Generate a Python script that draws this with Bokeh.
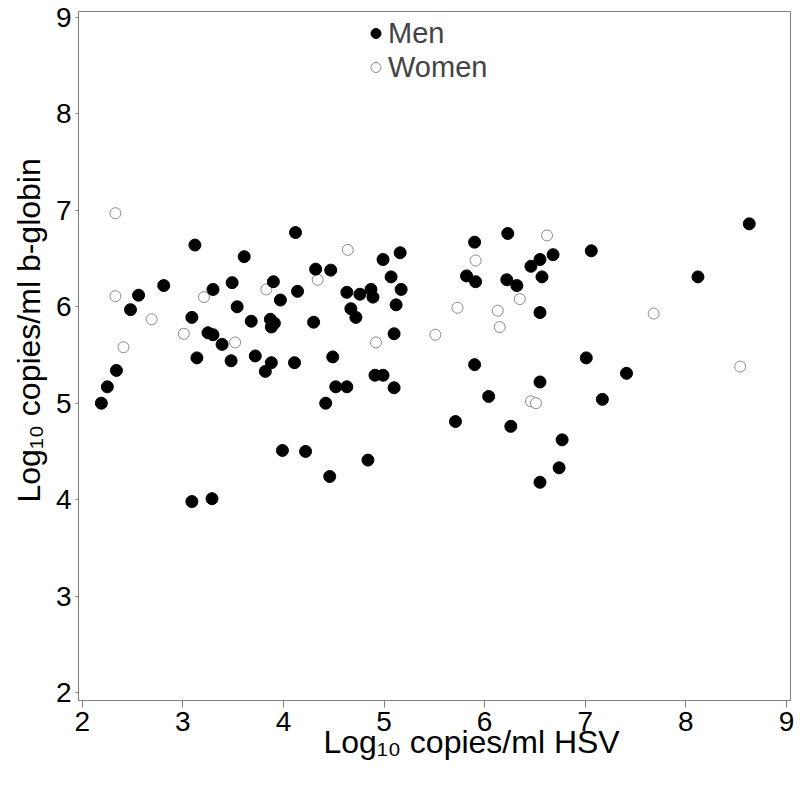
from bokeh.plotting import figure
from bokeh.models import Range1d, FixedTicker, Legend, LegendItem, Title
from bokeh.embed import file_html
from bokeh.resources import INLINE

# ---- data ----
men_x = [3.12, 3.61, 2.81, 2.56, 2.48, 3.30, 3.49, 3.54, 3.68, 3.09, 3.25, 3.30, 3.39, 3.14, 3.48, 3.72,
         2.34, 2.25, 2.19, 3.09, 3.29,
         4.12, 4.99, 5.16, 4.32, 4.47, 3.90, 3.97, 4.14, 5.07, 5.17, 4.63, 4.76, 4.87, 4.89, 5.12, 4.67,
         4.72, 3.87, 3.91, 3.88, 4.30, 5.10, 3.88, 3.82, 4.11, 4.49, 4.91, 4.99, 4.52, 4.63, 5.10, 4.42,
         3.99, 4.22, 4.84, 4.46,
         6.23, 5.90, 6.68, 7.06, 6.55, 6.46, 5.82, 5.91, 6.22, 6.32, 6.57, 6.55, 5.90, 7.01, 6.55, 6.04,
         5.71, 6.26, 6.77, 6.74, 6.55,
         8.63, 8.12, 7.41, 7.17]
men_y = [6.64, 6.52, 6.22, 6.12, 5.97, 6.18, 6.25, 6.00, 5.85, 5.89, 5.73, 5.71, 5.61, 5.47, 5.44, 5.49,
         5.34, 5.17, 5.00, 3.98, 4.01,
         6.77, 6.49, 6.56, 6.39, 6.38, 6.26, 6.07, 6.16, 6.31, 6.18, 6.15, 6.13, 6.18, 6.10, 6.02, 5.98,
         5.89, 5.87, 5.83, 5.79, 5.84, 5.72, 5.42, 5.33, 5.42, 5.48, 5.29, 5.29, 5.17, 5.17, 5.16, 5.00,
         4.51, 4.50, 4.41, 4.24,
         6.76, 6.67, 6.54, 6.58, 6.49, 6.42, 6.32, 6.26, 6.28, 6.22, 6.31, 5.94, 5.40, 5.47, 5.22, 5.07,
         4.81, 4.76, 4.62, 4.33, 4.18,
         6.86, 6.31, 5.31, 5.04]

women_x = [2.33, 2.33, 2.69, 2.41, 3.01, 3.21, 3.52, 4.64, 4.34, 3.83, 4.92,
           6.62, 5.91, 6.35, 5.73, 6.13, 6.15, 5.51, 6.46, 6.51, 7.68, 8.54]
women_y = [6.97, 6.11, 5.87, 5.58, 5.72, 6.10, 5.63, 6.59, 6.28, 6.18, 5.63,
           6.74, 6.48, 6.08, 5.99, 5.96, 5.79, 5.71, 5.02, 5.00, 5.93, 5.38]

x_ticks = [2, 3, 4, 5, 6, 7, 8, 9]
y_ticks = [2, 3, 4, 5, 6, 7, 8, 9]
x_title = "Log\u2081\u2080 copies/ml HSV"
y_title = "Log\u2081\u2080 copies/ml b-globin"
series_names = ["Men", "Women"]

FONT = "Liberation Sans"
GRAY = "#7f7f7f"

p = figure(width=800, height=790, output_backend="svg", toolbar_location=None,
           x_range=Range1d(1.963, 9.04), y_range=Range1d(1.917, 9.062),
           min_border_left=78, min_border_right=10, min_border_top=11, min_border_bottom=90,
           background_fill_color="white", border_fill_color="white")

p.grid.visible = False
p.outline_line_color = GRAY
p.outline_line_width = 1

for ax in (p.xaxis[0], p.yaxis[0]):
    ax.axis_line_color = GRAY
    ax.major_tick_line_color = GRAY
    ax.minor_tick_line_color = None
    ax.major_tick_in = 0
    ax.major_label_text_font = FONT
    ax.major_label_text_font_size = "28px"
    ax.major_label_text_color = "black"

p.xaxis.ticker = FixedTicker(ticks=x_ticks)
p.yaxis.ticker = FixedTicker(ticks=y_ticks)
p.xaxis.major_tick_out = 7
p.yaxis.major_tick_out = 3
p.xaxis.major_label_standoff = 4
p.yaxis.major_label_standoff = 4

# axis titles (offset along the axis like the reference)
p.add_layout(Title(text=x_title, align="left", offset=245, standoff=-23,
                   text_font=FONT, text_font_size="32px", text_font_style="normal",
                   text_color="black"), "below")
p.add_layout(Title(text=y_title, align="left", offset=198, standoff=12,
                   text_font=FONT, text_font_size="32px", text_font_style="normal",
                   text_color="black"), "left")

r_women = p.scatter(women_x, women_y, size=11, marker="circle", fill_color="white",
                    line_color="#8a8a8a", line_width=1)
r_men = p.scatter(men_x, men_y, size=12, marker="circle", fill_color="black",
                  line_color="black", line_width=1)

legend = Legend(items=[LegendItem(label=series_names[0], renderers=[r_men]),
                       LegendItem(label=series_names[1], renderers=[r_women])],
                location=(285, 616), orientation="vertical",
                glyph_width=25, glyph_height=34, label_height=34,
                label_standoff=0, padding=0, spacing=0, margin=0,
                label_text_font=FONT, label_text_font_size="29px",
                border_line_alpha=0, background_fill_alpha=0)
p.add_layout(legend, "center")

open("out.html", "w").write(file_html(p, INLINE))
